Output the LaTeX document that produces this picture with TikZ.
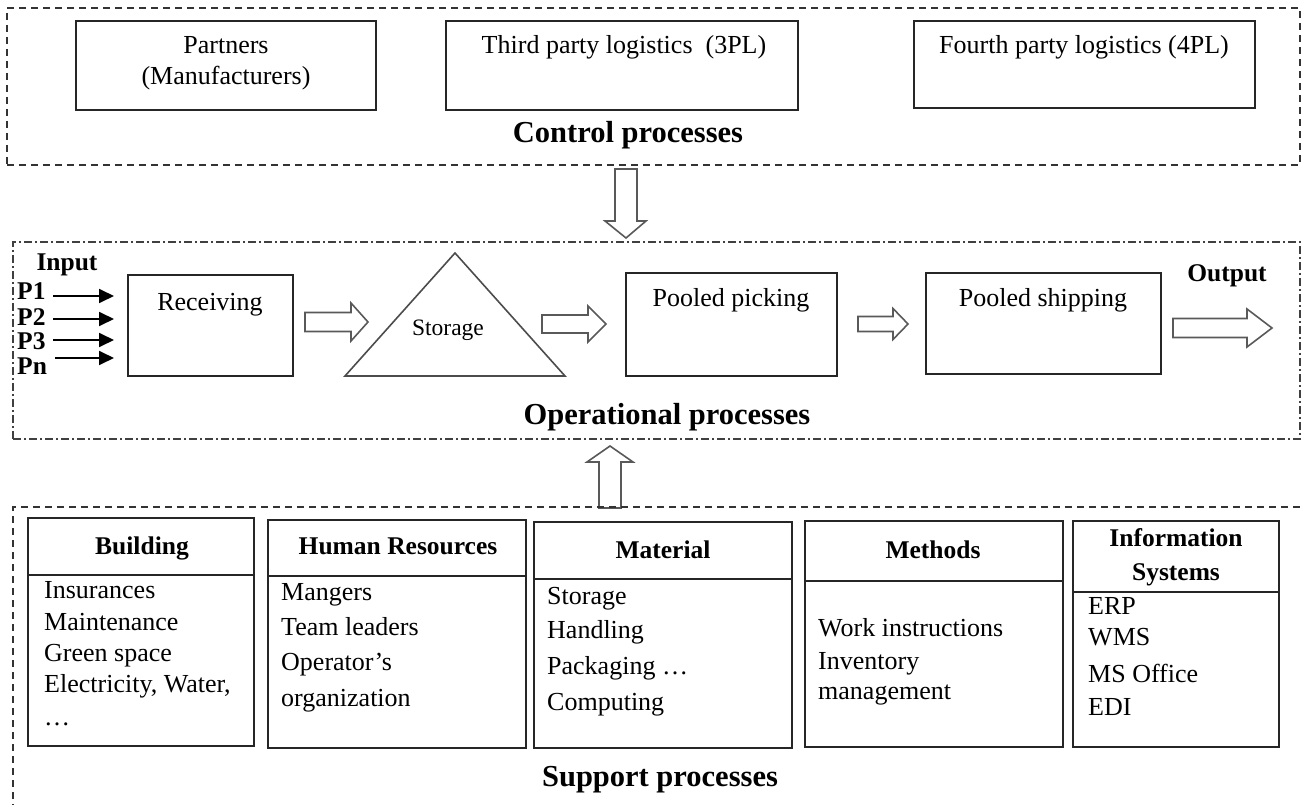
\documentclass[tikz,border=0pt]{standalone}
\usepackage{fontspec}
\setmainfont{Liberation Serif}
\usetikzlibrary{arrows.meta,calc}
\begin{document}
\begin{tikzpicture}[x=1pt,y=-1pt,
  box/.style={draw=black!85,line width=1.6pt,inner sep=0pt},
  hline/.style={draw=black!85,line width=1.6pt},
  txt/.style={inner sep=0pt,font=\fontsize{26}{30}\selectfont,text height=19pt,text depth=5pt},
  btxt/.style={inner sep=0pt,font=\fontsize{25.5}{30}\selectfont\bfseries,text height=19pt,text depth=5pt},
  stxt/.style={inner sep=0pt,font=\fontsize{23.5}{28}\selectfont,text height=17pt,text depth=5pt},
  sect/.style={inner sep=0pt,font=\fontsize{30.5}{34}\selectfont\bfseries,text height=22pt,text depth=6pt},
  ctrl/.style={draw=black!80,line width=1.4pt,dash pattern=on 7pt off 5pt},
  oper/.style={draw=black!75,line width=1.4pt,dash pattern=on 8pt off 3pt on 2pt off 3pt},
  blockarrow/.style={draw=black!65,line width=1.6pt,fill=white,line join=miter},
  inarrow/.style={line width=1.8pt,-{Triangle[length=15pt,width=14pt]}}]
\useasboundingbox (0,0) rectangle (1302,805);
% ---------- Control processes ----------
\node[ctrl,inner sep=0pt,minimum width=1293pt,minimum height=157pt] (ctrlbox) at (653.5,86.5) {};
\node[box,minimum width=300pt,minimum height=89pt] (pbox) at (226,65.5) {};
\node[txt] (ptxt1) at (226,47) {Partners};
\node[txt] (ptxt2) at (226,78) {(Manufacturers)};
\node[box,minimum width=352pt,minimum height=89pt] (tbox) at (622,65.5) {};
\node[txt] (ttxt) at (624,47) {Third party logistics\ \ (3PL)};
\node[box,minimum width=341pt,minimum height=87pt] (fbox) at (1084.5,64.5) {};
\node[txt] (ftxt) at (1084,47) {Fourth party logistics (4PL)};
\node[sect] (ctrllab) at (628,135) {Control processes};
% down block arrow
\draw[blockarrow] (615,169) -- (637,169) -- (637,221) -- (646,221) -- (626,238) -- (605,221) -- (615,221) -- cycle;
% ---------- Operational processes ----------
\node[oper,inner sep=0pt,minimum width=1287pt,minimum height=197pt] (operbox) at (656.5,340.5) {};
\node[btxt] (input) at (67,264) {Input};
\node[btxt,anchor=west] (p1) at (17,293) {P1};
\node[btxt,anchor=west] (p2) at (17,318) {P2};
\node[btxt,anchor=west] (p3) at (17,342) {P3};
\node[btxt,anchor=west] (pn) at (17,367) {Pn};
\coordinate (a1s) at (53,296); \coordinate (a1e) at (114,296);
\coordinate (a2s) at (53,319); \coordinate (a2e) at (114,319);
\coordinate (a3s) at (53,340); \coordinate (a3e) at (114,340);
\coordinate (a4s) at (55,358); \coordinate (a4e) at (114,358);
\draw[inarrow] (a1s) -- (a1e);
\draw[inarrow] (a2s) -- (a2e);
\draw[inarrow] (a3s) -- (a3e);
\draw[inarrow] (a4s) -- (a4e);
\node[box,minimum width=165pt,minimum height=101pt] (recv) at (210.5,325.5) {};
\node[txt] (recvtxt) at (210,303) {Receiving};
\draw[blockarrow] (305,312.5) -- (351,312.5) -- (351,303) -- (368,322) -- (351,341) -- (351,331.5) -- (305,331.5) -- cycle;
\coordinate (tapex) at (455,253);
\coordinate (tleft) at (345,376);
\coordinate (tright) at (565,376);
\draw[draw=black!70,line width=1.6pt,line join=miter] (tapex) -- (tright) -- (tleft) -- cycle;
\node[stxt] (stor) at (448,329) {Storage};
\draw[blockarrow] (542,315) -- (588,315) -- (588,306) -- (606,324) -- (588,342) -- (588,333) -- (542,333) -- cycle;
\node[box,minimum width=211pt,minimum height=103pt] (pick) at (731.5,324.5) {};
\node[txt] (picktxt) at (731,300) {Pooled picking};
\draw[blockarrow] (858,316.5) -- (893,316.5) -- (893,308.5) -- (908,324) -- (893,339.5) -- (893,331.5) -- (858,331.5) -- cycle;
\node[box,minimum width=235pt,minimum height=101pt] (ship) at (1043.5,323.5) {};
\node[txt] (shiptxt) at (1043,300) {Pooled shipping};
\node[btxt] (output) at (1227,275) {Output};
\draw[blockarrow] (1173,318.5) -- (1247,318.5) -- (1247,309) -- (1272,328) -- (1247,347) -- (1247,337.5) -- (1173,337.5) -- cycle;
\node[sect] (operlab) at (667,416) {Operational processes};
% up block arrow
\draw[blockarrow] (599,508) -- (621,508) -- (621,462) -- (633,462) -- (610,446) -- (587,462) -- (599,462) -- cycle;
% ---------- Support processes ----------
\coordinate (sup1) at (1300,507);
\coordinate (sup2) at (13,507);
\coordinate (sup3) at (13,806);
\draw[ctrl] (sup1) -- (sup2) -- (sup3);
% Building
\node[box,minimum width=226pt,minimum height=228pt] (bld) at (141,632) {};
\draw[hline] ($(bld.north west)+(0,58)$) -- ($(bld.north east)+(0,58)$);
\node[btxt] (bldt) at (142,547) {Building};
\node[txt,anchor=west] (b1) at (44,591) {Insurances};
\node[txt,anchor=west] (b2) at (44,623) {Maintenance};
\node[txt,anchor=west] (b3) at (44,654) {Green space};
\node[txt,anchor=west] (b4) at (44,685) {Electricity, Water,};
\node[txt,anchor=west] (b5) at (44,718) {\dots};
% Human resources
\node[box,minimum width=258pt,minimum height=228pt] (hr) at (397,634) {};
\draw[hline] ($(hr.north west)+(0,57)$) -- ($(hr.north east)+(0,57)$);
\node[btxt] (hrt) at (398,547) {Human Resources};
\node[txt,anchor=west] (h1) at (281,593) {Mangers};
\node[txt,anchor=west] (h2) at (281,628) {Team leaders};
\node[txt,anchor=west] (h3) at (281,663) {Operator’s};
\node[txt,anchor=west] (h4) at (281,699) {organization};
% Material
\node[box,minimum width=258pt,minimum height=226pt] (mat) at (663,635) {};
\draw[hline] ($(mat.north west)+(0,58)$) -- ($(mat.north east)+(0,58)$);
\node[btxt] (matt) at (663,551) {Material};
\node[txt,anchor=west] (m1) at (547,597) {Storage};
\node[txt,anchor=west] (m2) at (547,631) {Handling};
\node[txt,anchor=west] (m3) at (547,667) {Packaging …};
\node[txt,anchor=west] (m4) at (547,703) {Computing};
% Methods
\node[box,minimum width=258pt,minimum height=226pt] (meth) at (934,634) {};
\draw[hline] ($(meth.north west)+(0,61)$) -- ($(meth.north east)+(0,61)$);
\node[btxt] (metht) at (933,551) {Methods};
\node[txt,anchor=west] (e1) at (818,629) {Work instructions};
\node[txt,anchor=west] (e2) at (818,662) {Inventory};
\node[txt,anchor=west] (e3) at (818,692) {management};
% Information systems
\node[box,minimum width=206pt,minimum height=226pt] (info) at (1176,634) {};
\draw[hline] ($(info.north west)+(0,72)$) -- ($(info.north east)+(0,72)$);
\node[btxt] (infot1) at (1176,539) {Information};
\node[btxt] (infot2) at (1176,573) {Systems};
\node[txt,anchor=west] (i1) at (1088,607) {ERP};
\node[txt,anchor=west] (i2) at (1088,638) {WMS};
\node[txt,anchor=west] (i3) at (1088,675) {MS Office};
\node[txt,anchor=west] (i4) at (1088,708) {EDI};
\node[sect] (suplab) at (660,778) {Support processes};
\end{tikzpicture}
\end{document}
